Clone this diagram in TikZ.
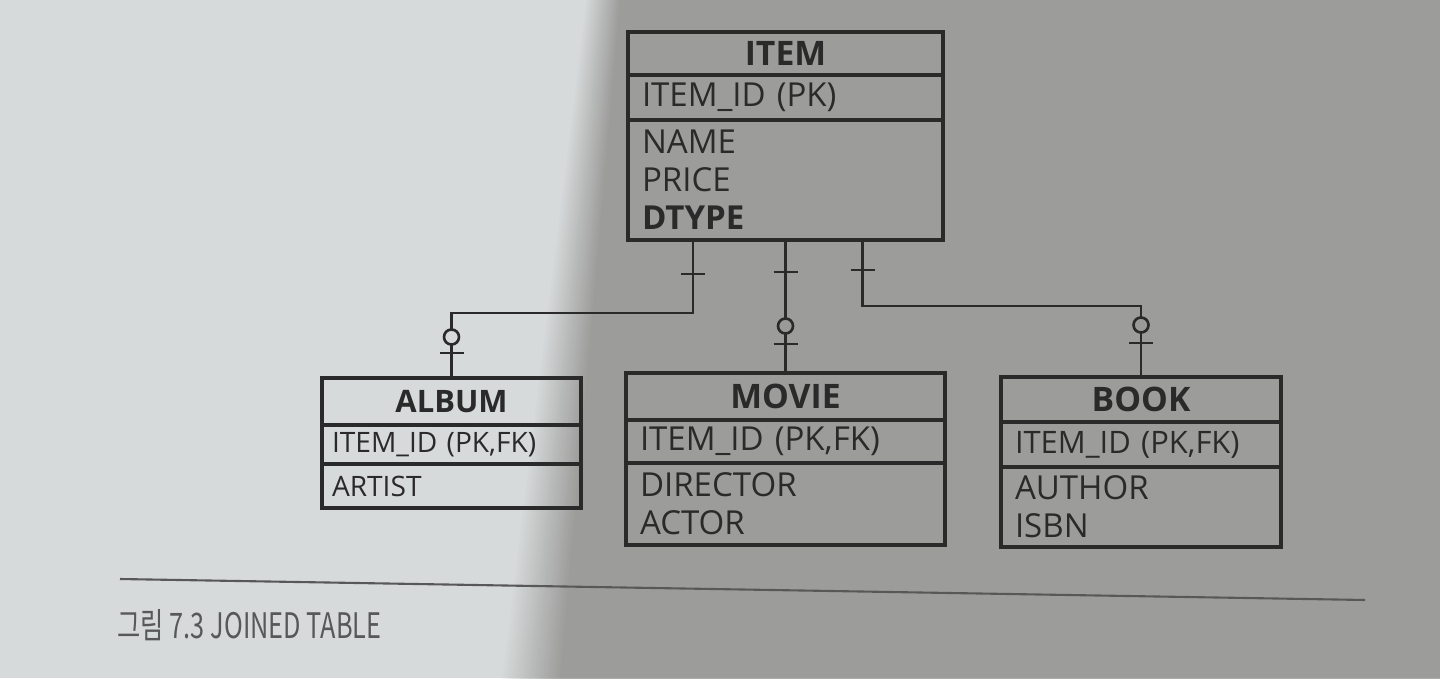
\documentclass[tikz,border=0pt]{standalone}
\usepackage{fontspec}
\setmainfont{Open Sans}
\newfontfamily\capfont[FakeStretch=0.72]{Noto Sans CJK KR}
\usepackage{tikz}
\usetikzlibrary{
  calc,positioning
}
\definecolor{PageLight}{RGB}{214,218,218}
\definecolor{PageDark}{RGB}{154,154,152}
\definecolor{InkGray}{RGB}{42,42,42}
\definecolor{CaptionGray}{RGB}{88,88,88}

\begin{document}
\begin{tikzpicture}[
    hd/.style={draw=InkGray,line width=0.9pt,outer sep=0pt,inner sep=0pt,
      minimum width=#1,font=\fontsize{9.6}{12}\selectfont\bfseries,text=InkGray},
    row/.style={draw=InkGray,line width=0.9pt,outer sep=0pt,inner xsep=0.14cm,
      inner ysep=0pt,text width=#1-0.28cm,align=left,
      font=\fontsize{9.4}{10.8}\selectfont,text=InkGray},
    link/.style={draw=InkGray,line width=0.75pt},
    tick/.style={draw=InkGray,line width=0.75pt}
  ]
  \useasboundingbox (0,0) rectangle (14.4,-6.78);
  % page and shadow of the photo
  \fill[PageLight] (0,0) rectangle (14.4,-6.78);
  \foreach \i in {0,...,24}{
    \pgfmathtruncatemacro{\mix}{100-4*\i}
    \fill[PageLight!\mix!PageDark] ({5.85+0.35*\i/24},0) -- (14.4,0) -- (14.4,-6.78)
      -- ({5.0+0.6*\i/24},-6.78) -- cycle;
  }

  % ITEM
  \node[hd=3.15cm,minimum height=0.43cm,anchor=north west] (itemhead) at (6.28,-0.32) {ITEM};
  \node[row=3.15cm,minimum height=0.45cm,below=0pt of itemhead] (itemkey) {ITEM\_ID (PK)};
  \node[row=3.15cm,minimum height=1.2cm,below=0pt of itemkey] (itemattr)
    {NAME\\PRICE\\\textbf{DTYPE}};

  % ALBUM
  \node[hd=2.59cm,minimum height=0.47cm,anchor=north west,
    font=\fontsize{8.8}{10}\selectfont\bfseries] (albumhead) at (3.22,-3.78) {ALBUM};
  \node[row=2.59cm,minimum height=0.39cm,below=0pt of albumhead,inner xsep=0.1cm,
    text width=2.39cm,font=\fontsize{8}{10}\selectfont] (albumkey) {ITEM\_ID (PK,FK)};
  \node[row=2.59cm,minimum height=0.44cm,below=0pt of albumkey,inner xsep=0.1cm,
    text width=2.39cm,font=\fontsize{8}{10}\selectfont] (albumattr) {ARTIST};

  % MOVIE
  \node[hd=3.19cm,minimum height=0.47cm,anchor=north west] (moviehead) at (6.26,-3.73) {MOVIE};
  \node[row=3.19cm,minimum height=0.43cm,below=0pt of moviehead] (moviekey) {ITEM\_ID (PK,FK)};
  \node[row=3.19cm,minimum height=0.82cm,below=0pt of moviekey] (movieattr)
    {DIRECTOR\\ACTOR};

  % BOOK
  \node[hd=2.80cm,minimum height=0.45cm,anchor=north west] (bookhead) at (10.01,-3.77) {BOOK};
  \node[row=2.80cm,minimum height=0.45cm,below=0pt of bookhead,
    font=\fontsize{8.8}{10.8}\selectfont] (bookkey) {ITEM\_ID (PK,FK)};
  \node[row=2.80cm,minimum height=0.80cm,below=0pt of bookkey] (bookattr)
    {AUTHOR\\ISBN};

  % relations
  \draw[link] ($(itemattr.south)+(-0.925,0)$) coordinate (ia) -- ++(0,-0.73) -| (albumhead.north);
  \draw[link] (itemattr.south) coordinate (im) -- (moviehead.north);
  \draw[link] ($(itemattr.south)+(0.77,0)$) coordinate (ib) -- ++(0,-0.66) -| (bookhead.north);

  \draw[tick] ($(ia)+(-0.12,-0.34)$) -- ++(0.24,0);
  \draw[tick] ($(im)+(-0.12,-0.32)$) -- ++(0.24,0);
  \draw[tick] ($(ib)+(-0.12,-0.30)$) -- ++(0.24,0);

  \draw[tick] ($(albumhead.north)+(-0.12,0.25)$) -- ++(0.24,0);
  \draw[tick,fill=PageLight] ($(albumhead.north)+(0,0.41)$) circle (0.075);
  \draw[tick] ($(moviehead.north)+(-0.12,0.29)$) -- ++(0.24,0);
  \draw[tick,fill=PageDark] ($(moviehead.north)+(0,0.47)$) circle (0.075);
  \draw[tick] ($(bookhead.north)+(-0.12,0.34)$) -- ++(0.24,0);
  \draw[tick,fill=PageDark] ($(bookhead.north)+(0,0.52)$) circle (0.075);

  % caption
  \draw[CaptionGray,line width=0.6pt] (1.2,-5.79) coordinate (rulel) -- (13.65,-6.0) coordinate (ruler);
  \node[anchor=west,inner sep=0pt,text=CaptionGray,font=\capfont\fontsize{10}{12}\selectfont]
    (caption) at (1.17,-6.25) {그림 7.3 JOINED TABLE};
\end{tikzpicture}
\end{document}
